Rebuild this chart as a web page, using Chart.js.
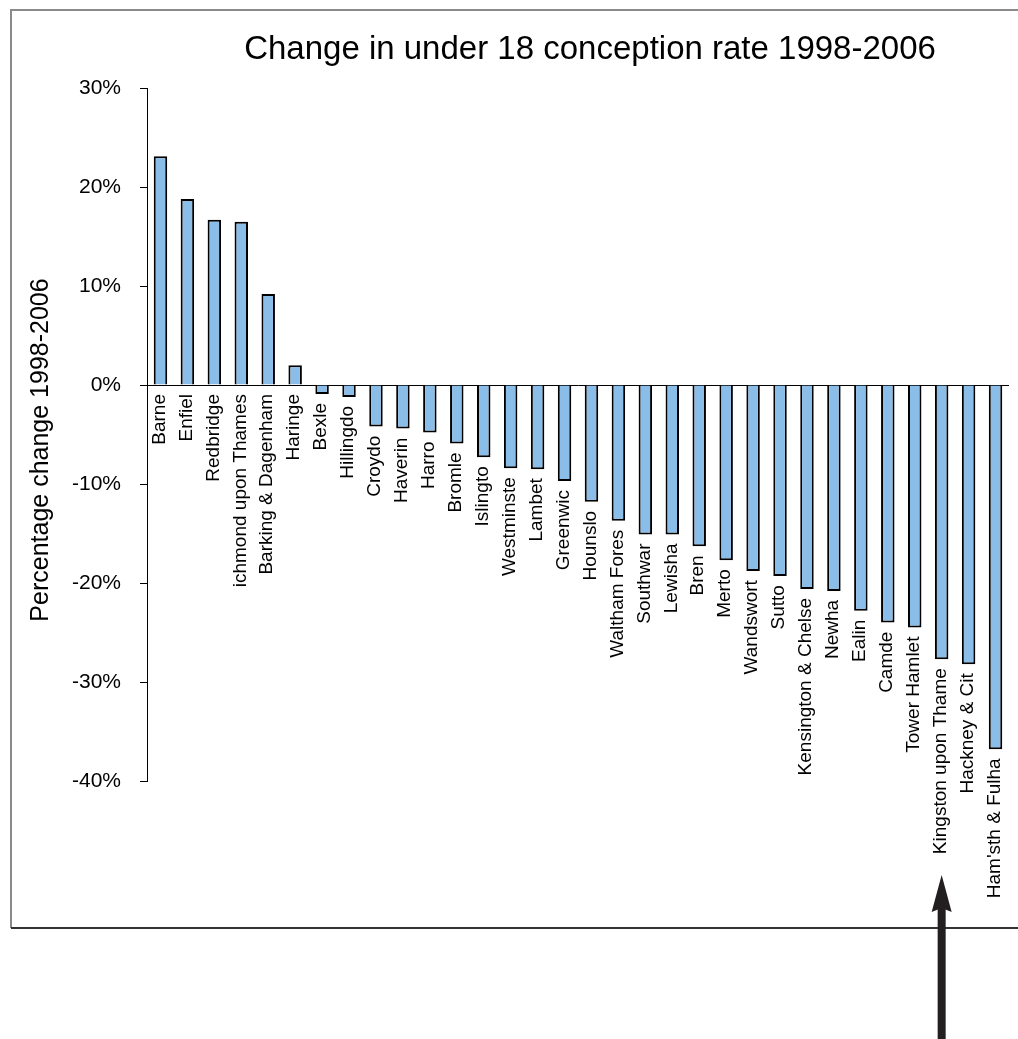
<!DOCTYPE html>
<html>
<head>
<meta charset="utf-8">
<script src="https://cdn.jsdelivr.net/npm/chart.js@4/dist/chart.umd.min.js"></script>
<style>
  html, body { margin: 0; padding: 0; background: #fff; }
  #wrap { position: absolute; left: 0; top: 0; width: 1018px; height: 1039px; }
</style>
</head>
<body>
<div id="wrap"><canvas id="chart" width="1018" height="1039"></canvas></div>
<script>
// labels as they show in the picture (clipped by the label box)
const boroughs = [
  'Barne', 'Enfiel', 'Redbridge', 'ichmond upon Thames', 'Barking & Dagenham',
  'Haringe', 'Bexle', 'Hillingdo', 'Croydo', 'Haverin', 'Harro', 'Bromle',
  'Islingto', 'Westminste', 'Lambet', 'Greenwic', 'Hounslo', 'Waltham Fores',
  'Southwar', 'Lewisha', 'Bren', 'Merto', 'Wandswort', 'Sutto',
  'Kensington & Chelse', 'Newha', 'Ealin', 'Camde', 'Tower Hamlet',
  'Kingston upon Thame', 'Hackney & Cit', "Ham'sth & Fulha"
]
// percentage change 1998-2006
const changes = [
  23.1, 18.8, 16.7, 16.5, 9.2, 2.0, -0.9, -1.2, -4.2, -4.4, -4.8, -5.9,
  -7.3, -8.4, -8.5, -9.7, -11.8, -13.7, -15.1, -15.1, -16.3, -17.7, -18.8, -19.3,
  -20.6, -20.8, -22.8, -24.0, -24.5, -27.7, -28.2, -36.8
]
const yTicks = [30, 20, 10, 0, -10, -20, -30, -40]
const highlighted = 29 // Kingston upon Thames gets the arrow

const FONT = '"Liberation Sans", Arial, Helvetica, sans-serif'

const extras = {
  id: 'extras',
  afterDatasetsDraw(chart) {
    const ctx = chart.ctx
    const xs = chart.scales.x
    const ys = chart.scales.y
    ctx.save()
    ctx.fillStyle = '#000'
    ctx.font = '19px ' + FONT
    ctx.textAlign = 'right'
    ctx.textBaseline = 'middle'
    boroughs.forEach((name, i) => {
      const x = xs.getPixelForValue(i) - 1
      const y = ys.getPixelForValue(Math.min(0, changes[i])) + 9
      ctx.save()
      ctx.translate(x, y)
      ctx.rotate(-Math.PI / 2)
      ctx.fillText(name, 0, 0)
      ctx.restore()
    })
    ctx.restore()
  },
  afterDraw(chart) {
    const ctx = chart.ctx
    ctx.save()
    // frame round the chart
    ctx.lineWidth = 2
    ctx.strokeStyle = '#8a8a8a'
    ctx.beginPath()
    ctx.moveTo(1020, 10)
    ctx.lineTo(11, 10)
    ctx.lineTo(11, 928)
    ctx.stroke()
    ctx.strokeStyle = '#333'
    ctx.beginPath()
    ctx.moveTo(11, 928)
    ctx.lineTo(1020, 928)
    ctx.stroke()

    // title
    ctx.fillStyle = '#000'
    ctx.font = '33px ' + FONT
    ctx.textAlign = 'center'
    ctx.textBaseline = 'alphabetic'
    ctx.fillText('Change in under 18 conception rate 1998-2006', 590, 59)

    // y axis title
    ctx.save()
    ctx.translate(41, 450)
    ctx.rotate(-Math.PI / 2)
    ctx.font = '25px ' + FONT
    ctx.textBaseline = 'middle'
    ctx.fillText('Percentage change 1998-2006', 0, 0)
    ctx.restore()

    // arrow pointing at Kingston upon Thames
    const ax = chart.scales.x.getPixelForValue(highlighted)
    ctx.fillStyle = '#231f20'
    ctx.fillRect(ax - 4, 908, 8, 140)
    ctx.beginPath()
    ctx.moveTo(ax, 875)
    ctx.lineTo(ax + 10, 912)
    ctx.lineTo(ax, 908)
    ctx.lineTo(ax - 10, 912)
    ctx.closePath()
    ctx.fill()
    ctx.restore()
  }
}

new Chart(document.getElementById('chart'), {
  type: 'bar',
  data: {
    labels: boroughs,
    datasets: [{
      data: changes,
      backgroundColor: '#8bbde9',
      borderColor: '#000',
      borderWidth: 2,
      categoryPercentage: 1,
      barPercentage: 0.5
    }]
  },
  options: {
    responsive: false,
    animation: false,
    devicePixelRatio: 1,
    layout: { padding: { left: 10, right: 9, top: 88, bottom: 258 } },
    plugins: {
      legend: { display: false },
      title: { display: false },
      tooltip: { enabled: false }
    },
    scales: {
      x: { display: false },
      y: {
        min: -40,
        max: 30,
        afterFit(scale) { scale.width = 137 },
        afterBuildTicks(scale) { scale.ticks = yTicks.map(v => ({ value: v })) },
        border: { display: true, color: '#000', width: 1 },
        grid: {
          drawOnChartArea: true,
          color: c => (c.tick && c.tick.value === 0) ? '#000' : 'rgba(0,0,0,0)',
          tickColor: '#000',
          tickLength: 7,
          lineWidth: 1
        },
        ticks: {
          color: '#000',
          padding: 19,
          font: { family: FONT, size: 21 },
          callback: v => v + '%'
        }
      }
    }
  },
  plugins: [extras]
})
</script>
</body>
</html>
